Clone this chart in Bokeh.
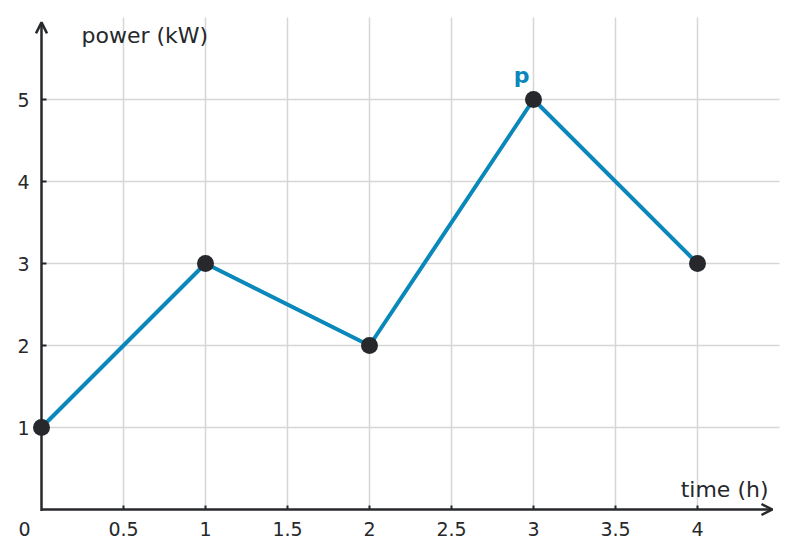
from bokeh.plotting import figure
from bokeh.models import Range1d, Arrow, OpenHead, ColumnDataSource
from bokeh.core.properties import value
from bokeh.embed import file_html
from bokeh.resources import INLINE

# data
time_h = [0, 1, 2, 3, 4]
power_kw = [1, 3, 2, 5, 3]
x_ticks = [0.5, 1, 1.5, 2, 2.5, 3, 3.5, 4]
x_tick_labels = ["0.5", "1", "1.5", "2", "2.5", "3", "3.5", "4"]
y_ticks = [1, 2, 3, 4, 5]
y_tick_labels = ["1", "2", "3", "4", "5"]
x_label = "time (h)"
y_label = "power (kW)"
series_name = "p"
origin_label = "0"

FONT = "DejaVu Sans"
DARK = "#26282c"
BLUE = "#0a88bb"
GRID = "#d6d6d6"

W, H = 790, 550
X0PX, Y0PX = 41, 509          # pixel position of the origin
SX, SY = 164.0, 82.0          # pixels per data unit
XMAX, YMAX = 4.5, 6.0         # grid extent

p = figure(width=W, height=H, output_backend="svg", toolbar_location=None,
           x_range=Range1d(-X0PX / SX, (W - X0PX) / SX),
           y_range=Range1d(-(H - Y0PX) / SY, Y0PX / SY),
           min_border=0, min_border_left=0, min_border_right=0,
           min_border_top=0, min_border_bottom=0)
p.axis.visible = False
p.grid.visible = False
p.outline_line_color = None
p.background_fill_color = "white"

# grid lines
p.segment(x0=x_ticks, y0=[0] * len(x_ticks), x1=x_ticks, y1=[YMAX] * len(x_ticks),
          line_color=GRID, line_width=1.5)
p.segment(x0=[0] * len(y_ticks), y0=y_ticks, x1=[XMAX] * len(y_ticks), y1=y_ticks,
          line_color=GRID, line_width=1.5)

# tick marks
p.segment(x0=x_ticks, y0=[0] * len(x_ticks), x1=x_ticks, y1=[4 / SY] * len(x_ticks),
          line_color=DARK, line_width=2)
p.segment(x0=[0] * len(y_ticks), y0=y_ticks, x1=[5 / SX] * len(y_ticks), y1=y_ticks,
          line_color=DARK, line_width=2)

# tick labels
p.text(x=x_ticks, y=[0] * len(x_ticks), text=x_tick_labels, y_offset=19,
       text_font=value(FONT), text_font_size="19px", text_color=DARK,
       text_align="center", text_baseline="middle")
p.text(x=[0] * len(y_ticks), y=y_ticks, text=y_tick_labels, x_offset=-12,
       text_font=value(FONT), text_font_size="19px", text_color=DARK,
       text_align="right", text_baseline="middle")
p.text(x=[0], y=[0], text=[origin_label], x_offset=-17, y_offset=19,
       text_font=value(FONT), text_font_size="19px", text_color=DARK,
       text_align="center", text_baseline="middle")

# axis arrows
p.add_layout(Arrow(x_start=0, y_start=-1.5 / SY, x_end=0, y_end=5.94,
                   line_color=DARK, line_width=2.5,
                   end=OpenHead(size=11, line_color=DARK, line_width=2.5)))
p.add_layout(Arrow(x_start=0, y_start=0, x_end=4.457, y_end=0,
                   line_color=DARK, line_width=2.5,
                   end=OpenHead(size=11, line_color=DARK, line_width=2.5)))

# data series
src = ColumnDataSource(dict(x=time_h, y=power_kw))
p.line("x", "y", source=src, line_color=BLUE, line_width=4)
p.scatter("x", "y", source=src, size=17, fill_color=DARK, line_color=None)

# axis titles and series name
p.text(x=[40 / SX], y=[YMAX], text=[y_label], y_offset=18,
       text_font=value(FONT), text_font_size="22px", text_color=DARK,
       text_align="left", text_baseline="middle")
p.text(x=[XMAX], y=[0], text=[x_label], x_offset=-11, y_offset=-20,
       text_font=value(FONT), text_font_size="22px", text_color=DARK,
       text_align="right", text_baseline="middle")
p.text(x=[time_h[3]], y=[power_kw[3]], text=[series_name], x_offset=-12, y_offset=-24,
       text_font=value(FONT), text_font_size="22px", text_font_style="bold",
       text_color=BLUE, text_align="center", text_baseline="middle")

open("out.html", "w").write(file_html(p, INLINE))
